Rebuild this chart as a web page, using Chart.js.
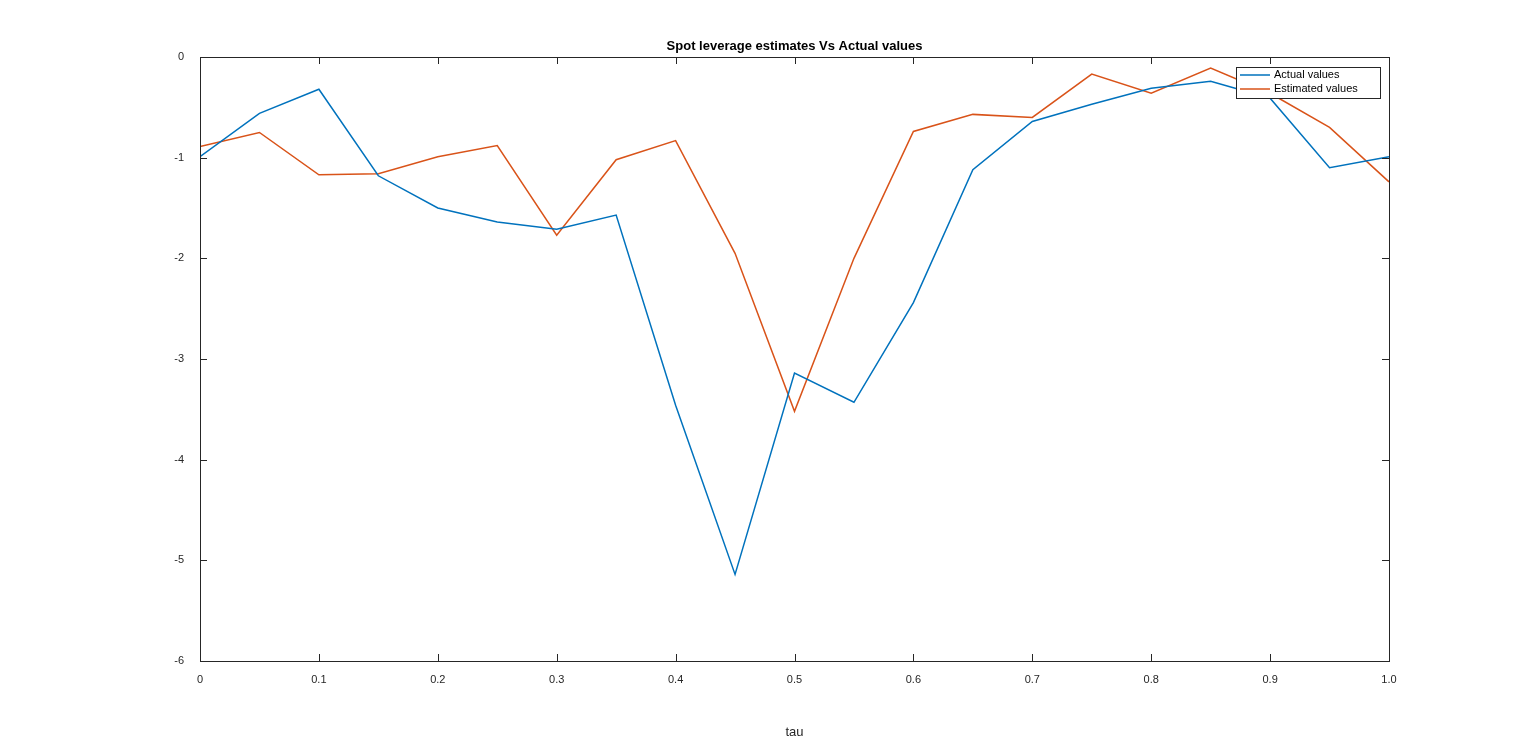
<!DOCTYPE html>
<html><head><meta charset="utf-8">
<script src="https://cdn.jsdelivr.net/npm/chart.js@4"></script>
<style>html,body{margin:0;padding:0;background:#fff}#w{width:1536px;height:744px}</style>
</head><body><div id="w"><canvas id="c"></canvas></div>
<script>
const tau = [0,0.05,0.1,0.15,0.2,0.25,0.3,0.35,0.4,0.45,0.5,0.55,0.6,0.65,0.7,0.75,0.8,0.85,0.9,0.95,1];
const actualValues = [-0.99,-0.56,-0.32,-1.18,-1.5,-1.64,-1.71,-1.57,-3.46,-5.14,-3.14,-3.43,-2.44,-1.12,-0.64,-0.47,-0.31,-0.24,-0.41,-1.10,-0.99];
const estimatedValues = [-0.89,-0.75,-1.17,-1.16,-0.99,-0.88,-1.77,-1.02,-0.83,-1.95,-3.52,-2.0,-0.74,-0.57,-0.60,-0.17,-0.36,-0.11,-0.36,-0.70,-1.24];
const seriesNames = ['Actual values','Estimated values'];
const titleText = 'Spot leverage estimates Vs Actual values';
const xLabel = 'tau';
const F = 'Liberation Sans, Arial, sans-serif';
const colors = ['#0072BD','#D95319'];

const deco = {
  id:'deco',
  afterDraw(ch){
    const c=ch.ctx, a=ch.chartArea;
    c.save();
    c.strokeStyle='#262626'; c.lineWidth=1;
    c.strokeRect(Math.round(a.left)+0.5,Math.round(a.top)+0.5,Math.round(a.right-a.left),Math.round(a.bottom-a.top));
    // inward ticks
    c.beginPath();
    for(let i=0;i<=10;i++){const x=Math.round(ch.scales.x.getPixelForValue(i/10))+0.5;
      c.moveTo(x,a.bottom);c.lineTo(x,a.bottom-7);c.moveTo(x,a.top);c.lineTo(x,a.top+7);}
    for(let v=-6;v<=0;v++){const y=Math.round(ch.scales.y.getPixelForValue(v))+0.5;
      c.moveTo(a.left,y);c.lineTo(a.left+7,y);c.moveTo(a.right,y);c.lineTo(a.right-7,y);}
    c.stroke();
    // title
    c.fillStyle='#000'; c.font='bold 13px '+F; c.textAlign='center'; c.textBaseline='alphabetic';
    c.fillText(titleText,(a.left+a.right)/2,a.top-7);
    // legend
    const lx=1236, ly=67, lw=144, lh=31;
    c.fillStyle='#fff'; c.fillRect(lx,ly,lw,lh);
    c.strokeStyle='#262626'; c.strokeRect(lx+0.5,ly+0.5,lw,lh);
    c.font='11px '+F; c.textAlign='left'; c.textBaseline='middle';
    seriesNames.forEach((n,i)=>{
      const y=ly+8+i*14;
      c.strokeStyle=colors[i]; c.lineWidth=1.5;
      c.beginPath(); c.moveTo(lx+4,y); c.lineTo(lx+34,y); c.stroke();
      c.fillStyle='#000'; c.fillText(n,lx+38,y);
    });
    c.restore();
  }
};

new Chart(document.getElementById('c'),{
  type:'line',
  data:{datasets:[
    {label:seriesNames[0],data:tau.map((t,i)=>({x:t,y:actualValues[i]})),borderColor:colors[0],borderWidth:1.5,pointRadius:0,tension:0,fill:false},
    {label:seriesNames[1],data:tau.map((t,i)=>({x:t,y:estimatedValues[i]})),borderColor:colors[1],borderWidth:1.5,pointRadius:0,tension:0,fill:false}
  ]},
  options:{
    responsive:true,maintainAspectRatio:false,animation:false,
    layout:{padding:{top:57,right:147,left:0,bottom:0}},
    plugins:{legend:{display:false},title:{display:false},tooltip:{enabled:false}},
    scales:{
      x:{type:'linear',min:0,max:1,
        ticks:{stepSize:0.1,color:'#262626',font:{family:F,size:11},padding:4,maxRotation:0},
        grid:{display:false},border:{display:false},
        title:{display:true,text:xLabel,color:'#262626',font:{family:F,size:13},padding:{top:2}},
        afterFit(s){s.height=83;}},
      y:{min:-6,max:0,
        ticks:{stepSize:1,color:'#262626',font:{family:F,size:11},padding:8},
        grid:{display:false},border:{display:false},
        afterFit(s){s.width=200;}}
    }
  },
  plugins:[deco]
});
</script></body></html>
